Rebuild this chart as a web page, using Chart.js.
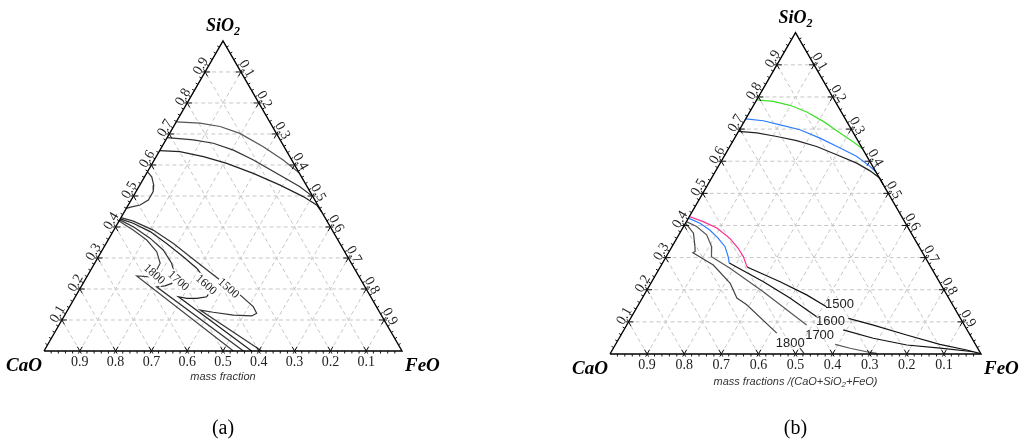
<!DOCTYPE html>
<html>
<head>
<meta charset="utf-8">
<script src="https://cdn.jsdelivr.net/npm/chart.js@4.4.1/dist/chart.umd.min.js"></script>
<style>
  html, body { margin: 0; padding: 0; background: #fff; }
  body { width: 1024px; height: 443px; position: relative; overflow: hidden; }
  .panel { position: absolute; top: 0; width: 512px; height: 443px; }
  #boxA { left: 0; }
  #boxB { left: 512px; }
</style>
</head>
<body>
<div class="panel" id="boxA"><canvas id="chartA" width="512" height="443"></canvas></div>
<div class="panel" id="boxB"><canvas id="chartB" width="512" height="443"></canvas></div>
<script>
// every point is [SiO2, FeO] mass fraction, CaO = 1 - SiO2 - FeO ; null = break in line
const tickValues = [0.1, 0.2, 0.3, 0.4, 0.5, 0.6, 0.7, 0.8, 0.9];
const tickLabels = ['0.1', '0.2', '0.3', '0.4', '0.5', '0.6', '0.7', '0.8', '0.9'];
const minorStep = 0.02;

// ---- (a) ----
const aSilica1 = [[0.739, 0], [0.735, 0.068], [0.724, 0.130], [0.702, 0.196], [0.659, 0.283], [0.616, 0.360], [0.575, 0.425]];
const aSilica2 = [[0.688, 0], [0.681, 0.077], [0.670, 0.138], [0.648, 0.205], [0.616, 0.277], [0.573, 0.363], [0.530, 0.450], [0.498, 0.502]];
const aSilica3 = [[0.646, 0], [0.643, 0.058], [0.627, 0.132], [0.605, 0.208], [0.573, 0.298], [0.535, 0.392], [0.498, 0.475], [0.471, 0.526], [0.449, 0.551]];
const aBulge = [[0.578, 0], [0.562, 0.020], [0.535, 0.039], [0.514, 0.048], [0.487, 0.048], [0.471, 0.033], [0.464, 0.010], [0.460, 0]];
const aIso1500 = [[0.430, 0], [0.419, 0.040], [0.390, 0.110], [0.347, 0.188], [0.288, 0.282], [0.229, 0.377], [0.181, 0.457], [0.143, 0.513], [0.122, 0.533], [0.113, 0.524], [0.116, 0.471], [0.125, 0.410], [0.132, 0.370], [0, 0.608]];
const aIso1600 = [[0.426, 0], [0.412, 0.043], [0.385, 0.104], [0.347, 0.169], [0.304, 0.237], [0.267, 0.293], [0.224, 0.343], [0.191, 0.368], [0.175, 0.367], [0.170, 0.342], [0.170, 0.314], [0.175, 0.288], [0, 0.580]];
const aIso1700 = [[0.423, 0], [0.401, 0.049], [0.364, 0.114], [0.326, 0.170], [0.283, 0.215], [0.245, 0.243], [0.218, 0.248], [0.210, 0.233], [0.207, 0.211], [0, 0.557]];
const aIso1800 = [[0.419, 0], [0.390, 0.054], [0.358, 0.108], [0.320, 0.155], [0.283, 0.183], [0.261, 0.184], [0.239, 0.177], [0.242, 0.138], [0, 0.529]];
const aIsoLabels = ['1500', '1600', '1700', '1800'];
const aIsoLabelAt = [[0.202, 0.414], [0.213, 0.346], [0.226, 0.262], [0.247, 0.184]];

// ---- (b) ----
const bGreen = [[0.791, 0], [0.786, 0.047], [0.774, 0.098], [0.753, 0.154], [0.724, 0.213], [0.688, 0.276], [0.660, 0.326], [0.639, 0.361]];
const bBlue = [[0.732, 0], [0.726, 0.050], [0.713, 0.102], [0.698, 0.163], [0.672, 0.230], [0.641, 0.300], [0.615, 0.358], [0.584, 0.409], [0.566, 0.434]];
const bBlack = [[0.693, 0], [0.688, 0.052], [0.677, 0.111], [0.664, 0.171], [0.646, 0.234], [0.620, 0.301], [0.594, 0.368], [0.570, 0.416], [0.547, 0.454], [0.527, 0.473]];
const bIso1500Pink = [[0.428, 0], [0.412, 0.045], [0.392, 0.092], [0.360, 0.143], [0.329, 0.181], [0.303, 0.208], [0.272, 0.233]];
const bIso1500 = [[0.272, 0.233], [0.269, 0.238], [0.225, 0.346], [0.184, 0.438], [0.147, 0.510], null, [0.111, 0.587], [0.090, 0.665], [0.059, 0.770], [0.030, 0.874], [0.0125, 0.955], [0.002, 0.995]];
const bIso1600Blue = [[0.423, 0], [0.407, 0.039], [0.386, 0.076], [0.360, 0.112], [0.334, 0.143], [0.303, 0.167], [0.283, 0.180]];
const bIso1600 = [[0.283, 0.180], [0.225, 0.301], [0.174, 0.398], [0.116, 0.499], null, [0.075, 0.591], [0.049, 0.685], [0.028, 0.786], [0.018, 0.881], [0.007, 0.976]];
const bIso1700 = [[0.412, 0], [0.397, 0.035], [0.371, 0.075], [0.334, 0.107], [0.303, 0.122], [0.267, 0.190], [0.194, 0.316], [0.090, 0.485], null, [0.030, 0.592], [0.018, 0.638], [0.007, 0.688], [0.002, 0.718]];
const bIso1800 = [[0.407, 0], [0.376, 0.037], [0.334, 0.062], [0.319, 0.070], [0.315, 0.066], [0.277, 0.140], [0.220, 0.214], [0.174, 0.255], [0.153, 0.292], [0.065, 0.417], null, [0.018, 0.503], [0.002, 0.522]];
const bIsoLabels = ['1500', '1600', '1700', '1800'];
const bIsoLabelAt = [[0.153, 0.542], [0.101, 0.544], [0.058, 0.536], [0.034, 0.469]];

const H = Math.sqrt(3) / 2;
const serif = '"Liberation Serif", "Times New Roman", serif';
const sans = '"Liberation Sans", Arial, sans-serif';

function tern(p) {
  if (!p) return { x: null, y: null };
  return { x: p[1] + p[0] / 2, y: p[0] * H };
}

function drawRich(ctx, parts, x, y, align) {
  let total = 0;
  parts.forEach(p => { ctx.font = p.font; p.w = ctx.measureText(p.t).width; total += p.w; });
  let cx = align === 'center' ? x - total / 2 : (align === 'right' ? x - total : x);
  ctx.textAlign = 'left';
  parts.forEach(p => { ctx.font = p.font; ctx.fillText(p.t, cx, y + (p.dy || 0)); cx += p.w; });
}

const ternaryDecor = {
  id: 'ternaryDecor',
  afterDatasetsDraw(chart, args, o) {
    const ctx = chart.ctx;
    const sx = chart.scales.x, sy = chart.scales.y;
    const px = p => { const t = tern(p); return [sx.getPixelForValue(t.x), sy.getPixelForValue(t.y)]; };
    const seg = (P, d, a, b) => {
      ctx.moveTo(P[0] + d[0] * a, P[1] + d[1] * a);
      ctx.lineTo(P[0] + d[0] * b, P[1] + d[1] * b);
    };
    ctx.save();

    // ticks on the three sides
    const sides = [
      { at: v => [0, 1 - v], n: [0, 1], g: [[0.5, -H], [-0.5, -H]] },
      { at: v => [v, 0], n: [-H, -0.5], g: [[1, 0], [0.5, H]] },
      { at: v => [1 - v, v], n: [H, -0.5], g: [[-1, 0], [-0.5, H]] }
    ];
    ctx.strokeStyle = '#111';
    ctx.lineWidth = 1;
    ctx.beginPath();
    sides.forEach(s => {
      for (let k = 1; k < 50; k++) {
        const P = px(s.at(k * minorStep));
        if (k % 5 === 0) { s.g.forEach(d => seg(P, d, -3, 5)); }
        else seg(P, s.n, 0, 2.5);
      }
    });
    ctx.stroke();

    // tick labels
    ctx.fillStyle = '#222';
    ctx.font = '14px ' + serif;
    ctx.textAlign = 'center';
    ctx.textBaseline = 'middle';
    tickValues.forEach((v, i) => {
      let P = px([0, 1 - v]);
      ctx.fillText(tickLabels[i], P[0], P[1] + 11);
      P = px([v, 0]);
      ctx.save();
      ctx.translate(P[0] - H * 6.5 + 1.5, P[1] - 3.25 - H * 3);
      ctx.rotate(-Math.PI / 3);
      ctx.fillText(tickLabels[i], 0, 0);
      ctx.restore();
      P = px([1 - v, v]);
      ctx.save();
      ctx.translate(P[0] + H * 6.5, P[1] - 3.25);
      ctx.rotate(Math.PI / 3);
      ctx.fillText(tickLabels[i], 0, 0);
      ctx.restore();
    });

    // isotherm labels
    ctx.font = o.isoFont;
    o.isoLabels.forEach((t, i) => {
      const P = px(o.isoAt[i]);
      ctx.save();
      ctx.translate(P[0], P[1]);
      ctx.rotate(o.isoAngle);
      if (o.isoBox) {
        const w = ctx.measureText(t).width + 2;
        ctx.fillStyle = '#fff';
        ctx.fillRect(-w / 2, -5.5, w, 11);
      }
      ctx.fillStyle = '#222';
      ctx.fillText(t, 0, 0);
      ctx.restore();
    });

    // component names
    ctx.textBaseline = 'alphabetic';
    ctx.fillStyle = '#000';
    const big = 'bold italic 19px ' + serif;
    const cA = px([0, 0]), cF = px([0, 1]), cS = px([1, 0]);
    drawRich(ctx, [{ t: 'CaO', font: big }], cA[0] - 2, cA[1] + 20, 'right');
    drawRich(ctx, [{ t: 'FeO', font: big }], cF[0] + 3, cF[1] + 20, 'left');
    drawRich(ctx, [{ t: 'SiO', font: 'bold italic 18px ' + serif }, { t: '2', font: 'bold italic 12px ' + serif, dy: 4 }],
      cS[0], cS[1] - 10, 'center');

    // axis title and panel tag
    ctx.fillStyle = '#333';
    drawRich(ctx, o.title, (cA[0] + cF[0]) / 2, cA[1] + o.titleDy, 'center');
    ctx.fillStyle = '#000';
    drawRich(ctx, [{ t: o.tag, font: '20px ' + serif }], cS[0], 434, 'center');
    ctx.restore();
  }
};

function ternChart(id, frame, lines, decor) {
  const gridData = [];
  tickValues.forEach(v => {
    gridData.push(tern([v, 0]), tern([v, 1 - v]), tern(null));
    gridData.push(tern([0, v]), tern([1 - v, v]), tern(null));
    gridData.push(tern([0, 1 - v]), tern([1 - v, 0]), tern(null));
  });
  const datasets = [{
    data: gridData, borderColor: '#c6c6c6', borderWidth: 1, borderDash: [4, 3], order: 5
  }, {
    data: [[0, 0], [0, 1], [1, 0], [0, 0]].map(tern), borderColor: '#000', borderWidth: 1.4, order: 1
  }];
  lines.forEach(l => datasets.push({ data: l.data.map(tern), borderColor: l.color, borderWidth: l.width || 1.2, order: 3 }));
  datasets.forEach(d => Object.assign(d, { showLine: true, pointRadius: 0, spanGaps: false, tension: 0, fill: false }));

  const w = 512, h = 443;
  return new Chart(document.getElementById(id), {
    type: 'scatter',
    data: { datasets: datasets },
    options: {
      responsive: false,
      animation: false,
      events: [],
      layout: { padding: 0 },
      scales: {
        x: { type: 'linear', display: false, min: -frame.x0 / frame.side, max: (w - frame.x0) / frame.side },
        y: { type: 'linear', display: false, min: (frame.y0 - h) / frame.side, max: frame.y0 / frame.side }
      },
      plugins: { legend: { display: false }, tooltip: { enabled: false }, ternaryDecor: decor }
    },
    plugins: [ternaryDecor]
  });
}

ternChart('chartA', { x0: 44, y0: 351, side: 358 }, [
  { data: aSilica1, color: '#555' },
  { data: aSilica2, color: '#333' },
  { data: aSilica3, color: '#222' },
  { data: aBulge, color: '#333' },
  { data: aIso1500, color: '#333' },
  { data: aIso1600, color: '#222' },
  { data: aIso1700, color: '#333' },
  { data: aIso1800, color: '#444' }
], {
  isoLabels: aIsoLabels, isoAt: aIsoLabelAt, isoAngle: 42 * Math.PI / 180, isoBox: true,
  isoFont: '12px ' + serif,
  title: [{ t: 'mass fraction', font: 'italic 11px ' + sans }], titleDy: 29,
  tag: '(a)'
});

ternChart('chartB', { x0: 98, y0: 354, side: 371 }, [
  { data: bGreen, color: '#3fe02a' },
  { data: bBlue, color: '#2b7dff' },
  { data: bBlack, color: '#222' },
  { data: bIso1500Pink, color: '#ff2a8c' },
  { data: bIso1500, color: '#111' },
  { data: bIso1600Blue, color: '#2b7dff' },
  { data: bIso1600, color: '#111' },
  { data: bIso1700, color: '#555' },
  { data: bIso1800, color: '#444' }
], {
  isoLabels: bIsoLabels, isoAt: bIsoLabelAt, isoAngle: 0, isoBox: false,
  isoFont: '13px ' + sans,
  title: [
    { t: 'mass fractions /(CaO+SiO', font: 'italic 11px ' + sans },
    { t: '2', font: 'italic 8px ' + sans, dy: 2 },
    { t: '+FeO)', font: 'italic 11px ' + sans }
  ], titleDy: 31,
  tag: '(b)'
});
</script>
</body>
</html>
